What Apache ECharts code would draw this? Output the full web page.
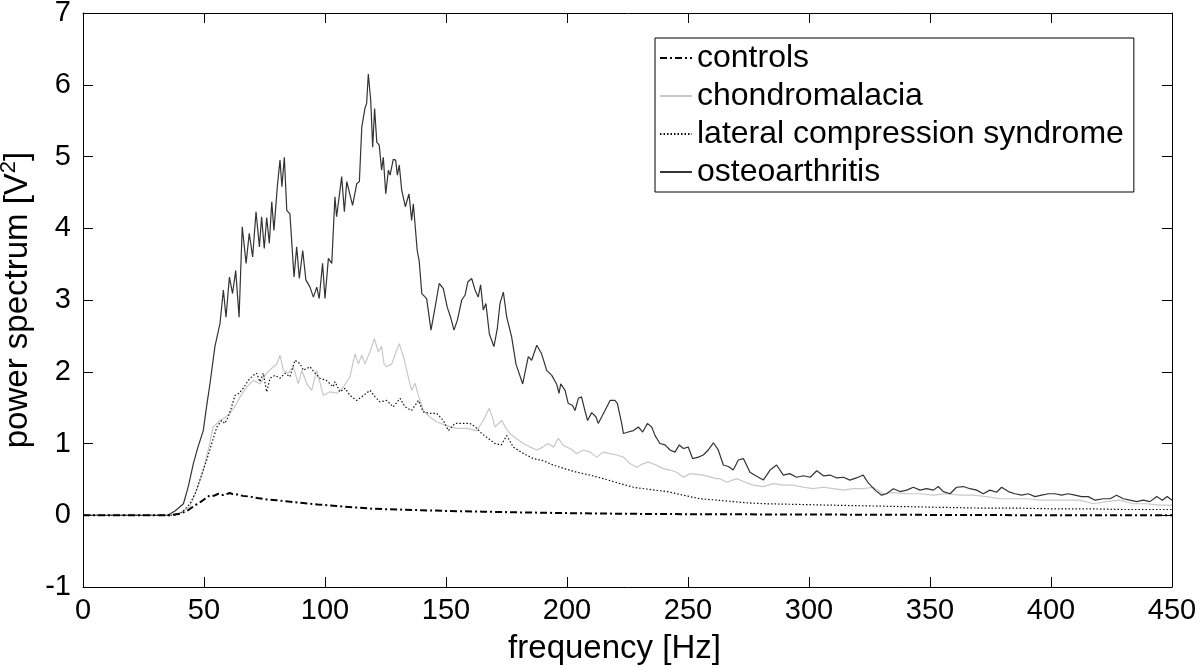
<!DOCTYPE html>
<html>
<head>
<meta charset="utf-8">
<script src="https://cdn.jsdelivr.net/npm/echarts@6/dist/echarts.min.js"></script>
<style>
html,body{margin:0;padding:0;background:#fff;}
#c{width:1200px;height:666px;}
</style>
</head>
<body>
<div id="c"></div>
<script>
// ---- data (frequency in Hz, power in V^2) ----
const seriesNames = ['controls', 'chondromalacia', 'lateral compression syndrome', 'osteoarthritis'];
const xTicks = [0, 50, 100, 150, 200, 250, 300, 350, 400, 450];
const yTicks = [-1, 0, 1, 2, 3, 4, 5, 6, 7];

const controls = [[0,0],[36,0],[40,0.02],[43,0.06],[46.3,0.14],[48,0.17],[50,0.22],[52.5,0.28],[54,0.27],[56,0.30],[58,0.28],[60.7,0.31],[62,0.29],[64,0.29],[66,0.27],[69,0.26],[72,0.24],[76,0.22],[80,0.21],[85,0.19],[91,0.17],[97,0.15],[104.8,0.13],[112,0.11],[120,0.09],[130,0.08],[140,0.07],[150,0.06],[165,0.05],[180,0.04],[200,0.03],[225,0.02],[250,0.015],[300,0.01],[350,0.005],[400,0.0],[450,0.0]];

const chondromalacia = [[0,0],[36,0],[40,0.03],[44.2,0.12],[47,0.35],[49.7,0.63],[52,0.95],[53.8,1.23],[56.6,1.32],[58.5,1.36],[60.7,1.42],[63.5,1.56],[64.9,1.65],[67.6,1.79],[70.4,1.88],[73.1,1.83],[75.9,1.98],[78.6,2.07],[80,2.1],[81.4,2.23],[82.8,2.02],[84.8,1.98],[86.9,2.07],[89,1.83],[90.4,2.02],[92.5,1.83],[94.5,1.74],[96.6,2.02],[99.3,1.67],[102,1.72],[104.8,1.70],[107.6,1.79],[110.3,1.93],[112.4,2.25],[113.8,2.11],[115.2,2.23],[116.5,2.11],[118.6,2.28],[120.4,2.46],[122,2.28],[123.4,2.35],[124.4,2.11],[125.5,2.07],[127.6,2.11],[129.6,2.30],[130.7,2.39],[132.4,2.21],[134.4,1.93],[135.8,1.74],[137.2,1.84],[138.6,1.67],[140.6,1.46],[143.4,1.37],[146.2,1.30],[150.3,1.25],[154.4,1.21],[158.5,1.21],[162.7,1.18],[165.4,1.32],[167.9,1.49],[169.3,1.35],[170.2,1.23],[173,1.32],[175,1.2],[176.4,1.14],[179,1.07],[182,1.00],[184.8,0.95],[187.5,0.91],[190,0.95],[192.3,1.00],[194.4,0.95],[196.4,1.07],[198.6,0.97],[201.2,0.93],[204,0.86],[206.7,0.91],[209.5,0.88],[212.3,0.81],[215,0.88],[217.8,0.86],[220.6,0.84],[223.3,0.81],[226,0.72],[228.8,0.67],[231.5,0.72],[233.6,0.74],[236.9,0.70],[239.8,0.65],[242.6,0.63],[245.3,0.60],[248.1,0.53],[250.8,0.58],[256.3,0.56],[261.8,0.51],[263.2,0.51],[266,0.46],[270.1,0.51],[272.9,0.47],[277,0.42],[281.1,0.40],[285.2,0.44],[289.3,0.42],[293.5,0.42],[297.7,0.39],[301.8,0.37],[305.9,0.39],[310,0.37],[314.2,0.35],[318.3,0.37],[322.4,0.37],[326.6,0.39],[330.7,0.30],[334.8,0.32],[340.3,0.30],[345.9,0.30],[351.4,0.28],[356.9,0.30],[362.4,0.28],[367.9,0.28],[373.4,0.26],[378.9,0.23],[384.4,0.23],[390,0.23],[395.5,0.21],[401,0.21],[406.5,0.21],[412,0.21],[417.5,0.16],[423,0.19],[428.5,0.21],[434,0.16],[439.5,0.16],[445,0.14],[450,0.14]];

const lateral = [[0,0],[38,0],[40,0.02],[42,0.08],[44.2,0.16],[46.3,0.3],[48.3,0.49],[51.1,0.77],[53.2,1.00],[55.3,1.23],[57.3,1.32],[58.6,1.28],[60,1.37],[61.4,1.51],[62.8,1.67],[64.5,1.70],[66.2,1.77],[68.3,1.88],[70.4,1.95],[71.8,1.98],[73.1,1.86],[74.5,1.98],[75.9,1.72],[77.3,1.91],[79.4,1.95],[81.4,1.91],[83.5,1.98],[85.5,1.93],[87.6,2.16],[89.7,2.11],[91.1,2.02],[93.8,2.07],[95.9,1.98],[97.9,1.91],[100.6,1.88],[103.4,1.79],[104.1,1.86],[106.2,1.72],[108.3,1.77],[110.3,1.67],[113.1,1.60],[115.9,1.67],[118.6,1.74],[120.7,1.65],[122.7,1.58],[125.5,1.60],[128.2,1.51],[131,1.63],[133.1,1.51],[135.8,1.46],[138.6,1.60],[140.6,1.44],[143.4,1.42],[146.2,1.42],[148.9,1.32],[151,1.18],[153.7,1.28],[156.8,1.28],[159.9,1.28],[162.2,1.23],[164.7,1.14],[167.5,1.07],[170.2,1.00],[172.8,0.98],[175.1,1.11],[177.8,0.95],[182,0.86],[186.1,0.79],[190.2,0.76],[194.3,0.70],[199,0.65],[204,0.60],[209.5,0.56],[215,0.51],[221,0.45],[227.4,0.39],[234,0.36],[241.2,0.33],[248,0.28],[255,0.23],[262,0.21],[268.7,0.19],[275.6,0.17],[282.5,0.16],[296.3,0.15],[310,0.14],[325,0.13],[340,0.12],[355,0.11],[370,0.10],[385,0.10],[400,0.09],[415,0.09],[430,0.08],[450,0.08]];

const osteoarthritis = [[0,0],[35,0],[38,0.06],[41.5,0.16],[43.5,0.4],[45.6,0.72],[47.5,0.95],[49.7,1.18],[51,1.5],[52.5,1.84],[54.5,2.35],[56.6,2.67],[58,3.14],[59.1,2.76],[60.5,3.32],[61.8,3.09],[63.1,3.41],[64.5,2.76],[65.8,4.02],[67.4,3.51],[68.7,3.93],[70.1,3.60],[71.5,4.23],[72.9,3.74],[73.8,4.16],[74.9,3.72],[75.9,4.15],[77.0,3.79],[78,4.37],[78.9,3.97],[80.3,4.58],[81.4,4.95],[82.2,4.58],[83.2,4.99],[84.2,4.25],[85.5,4.20],[87.2,3.32],[88.3,3.74],[89.4,3.30],[90.8,3.69],[92.1,3.28],[93.8,3.18],[95.2,3.04],[96.6,3.18],[97.6,3.02],[99.0,3.51],[100,3.02],[101.4,3.58],[102.8,3.51],[104.1,4.44],[104.8,4.16],[106.9,4.72],[108,4.23],[109,4.65],[111.4,4.32],[113.1,4.62],[114.2,4.65],[115.2,5.41],[116.5,5.67],[117.2,5.74],[117.9,6.15],[118.9,5.78],[119.7,5.13],[120.5,5.67],[121.4,5.20],[122.4,5.16],[123.4,4.81],[124.1,4.99],[125.1,4.48],[126.2,4.81],[126.9,4.74],[128.2,4.96],[129.2,4.95],[129.9,4.74],[130.7,4.88],[131.7,4.53],[133.2,4.30],[134.7,4.48],[135.8,4.11],[136.5,4.34],[137.2,4.06],[138.1,3.69],[138.9,3.55],[140,3.09],[142,3.02],[143.8,2.58],[145.5,2.90],[147.2,3.23],[148.9,3.16],[150.5,2.90],[151.9,2.76],[153.3,2.58],[154.7,2.72],[156.5,3.00],[157.9,3.07],[159,3.25],[160.6,3.30],[162,3.14],[163.3,3.04],[164.3,3.21],[165.4,2.86],[166.5,2.95],[167.9,2.53],[169.8,2.35],[171.2,2.60],[172.3,2.95],[173.7,3.11],[175.1,2.76],[177.1,2.49],[178.9,2.11],[181.7,1.83],[184,2.21],[185.4,2.16],[187.5,2.37],[189.5,2.25],[191.6,2.02],[193.7,1.95],[195.7,1.83],[196.7,1.70],[197.4,1.83],[199.2,1.74],[200.5,1.56],[202.3,1.53],[203.3,1.46],[204.7,1.63],[206,1.65],[207.4,1.46],[208.5,1.32],[210.2,1.43],[212,1.37],[212.9,1.28],[214.3,1.37],[215.7,1.46],[217.8,1.60],[219.8,1.60],[220.8,1.56],[222.6,1.28],[223.3,1.14],[225.3,1.16],[227.4,1.18],[229.5,1.23],[231.3,1.16],[233.2,1.28],[235,1.23],[236.4,1.11],[238.4,1.00],[240.5,0.98],[242.6,0.91],[244.6,0.88],[246.4,0.98],[248.1,0.93],[250.1,0.95],[251.9,0.79],[254.3,0.81],[256.3,0.84],[258.4,0.91],[260.5,1.01],[262.5,0.91],[264.6,0.70],[266.7,0.68],[268.7,0.63],[270.8,0.77],[272.9,0.79],[275.6,0.60],[278,0.55],[281.1,0.49],[283.9,0.63],[286.6,0.70],[289.4,0.56],[292,0.58],[294.9,0.53],[297.7,0.55],[300.5,0.53],[303.2,0.62],[306,0.55],[308.7,0.56],[311.5,0.52],[314.2,0.53],[316.9,0.49],[319.6,0.52],[322.4,0.56],[324.5,0.45],[327.3,0.35],[330,0.28],[332,0.30],[334.9,0.37],[337.6,0.33],[340.4,0.35],[343.1,0.39],[345.9,0.35],[348.6,0.37],[351.4,0.35],[353.4,0.40],[355.5,0.33],[358.3,0.30],[361,0.39],[363.8,0.40],[366.5,0.37],[369.3,0.35],[372,0.30],[374.8,0.35],[377.5,0.32],[379.6,0.39],[382.4,0.33],[385.1,0.30],[387.9,0.28],[390.6,0.30],[393.4,0.26],[396.1,0.28],[398.9,0.30],[401.6,0.30],[404.4,0.28],[407.1,0.30],[409.9,0.28],[412.6,0.26],[415.4,0.26],[418.2,0.21],[421.6,0.23],[424.4,0.23],[427.1,0.28],[429.9,0.23],[432.6,0.21],[435.4,0.19],[438.1,0.21],[440.9,0.19],[443.7,0.26],[446,0.21],[448,0.26],[450,0.21]];

// ---- chart ----
const FONT = "'Liberation Sans', Arial, sans-serif";
const chart = echarts.init(document.getElementById('c'), null, {renderer: 'canvas'});
const xMin = xTicks[0], xMax = xTicks[xTicks.length - 1], xInt = xTicks[1] - xTicks[0];
const yMin = yTicks[0], yMax = yTicks[yTicks.length - 1], yInt = yTicks[1] - yTicks[0];

const axisCommon = {
  axisLine: {show: true, onZero: false, lineStyle: {color: '#000', width: 1}},
  axisTick: {show: true, inside: true, length: 10, lineStyle: {color: '#000', width: 1}},
  splitLine: {show: false}
};
const noMarker = {color: 'transparent', borderWidth: 0, opacity: 0};

chart.setOption({
  animation: false,
  backgroundColor: '#fff',
  grid: {left: 83, right: 28, top: 13, bottom: 79, containLabel: false, outerBoundsMode: 'none'},
  legend: {
    orient: 'vertical', left: 655, top: 38,
    data: seriesNames,
    itemWidth: 32, itemHeight: 14, itemGap: 6,
    padding: [4, 10, 4, 4],
    borderColor: '#000', borderWidth: 1, backgroundColor: '#fff',
    itemStyle: noMarker,
    textStyle: {fontFamily: FONT, fontSize: 32, color: '#000', lineHeight: 32}
  },
  xAxis: [
    Object.assign({type: 'value', min: xMin, max: xMax, interval: xInt,
      name: 'frequency [Hz]', nameLocation: 'middle', nameGap: 45,
      nameTextStyle: {fontFamily: FONT, fontSize: 33, color: '#000', padding: [0, 26, 0, 0]},
      axisLabel: {fontFamily: FONT, fontSize: 29, color: '#000', margin: 9}}, axisCommon),
    Object.assign({type: 'value', position: 'top', min: xMin, max: xMax, interval: xInt,
      axisLabel: {show: false}}, axisCommon)
  ],
  yAxis: [
    Object.assign({type: 'value', min: yMin, max: yMax, interval: yInt,
      name: '{t|power spectrum [V}{sup|2}{t|]}', nameLocation: 'middle', nameGap: 33, nameRotate: 90,
      nameTextStyle: {fontFamily: FONT, fontSize: 33, color: '#000',
        rich: {
          t: {fontFamily: FONT, fontSize: 33, color: '#000', lineHeight: 36, verticalAlign: 'bottom'},
          sup: {fontFamily: FONT, fontSize: 22, color: '#000', lineHeight: 36, verticalAlign: 'top'}
        }},
      axisLabel: {fontFamily: FONT, fontSize: 29, color: '#000', margin: 12}}, axisCommon),
    Object.assign({type: 'value', position: 'right', min: yMin, max: yMax, interval: yInt,
      axisLabel: {show: false}}, axisCommon)
  ],
  series: [
    {name: seriesNames[0], type: 'line', data: controls, symbol: 'none', z: 5,
      lineStyle: {color: '#000', width: 2, type: [7, 3, 2, 3]}, itemStyle: noMarker},
    {name: seriesNames[1], type: 'line', data: chondromalacia, symbol: 'none', z: 3,
      lineStyle: {color: '#c8c8c8', width: 1.2}, itemStyle: noMarker},
    {name: seriesNames[2], type: 'line', data: lateral, symbol: 'none', z: 4,
      lineStyle: {color: '#111', width: 1.2, type: [1.5, 2]}, itemStyle: noMarker},
    {name: seriesNames[3], type: 'line', data: osteoarthritis, symbol: 'none', z: 4,
      lineStyle: {color: '#333', width: 1.2}, itemStyle: noMarker}
  ]
});
</script>
</body>
</html>
